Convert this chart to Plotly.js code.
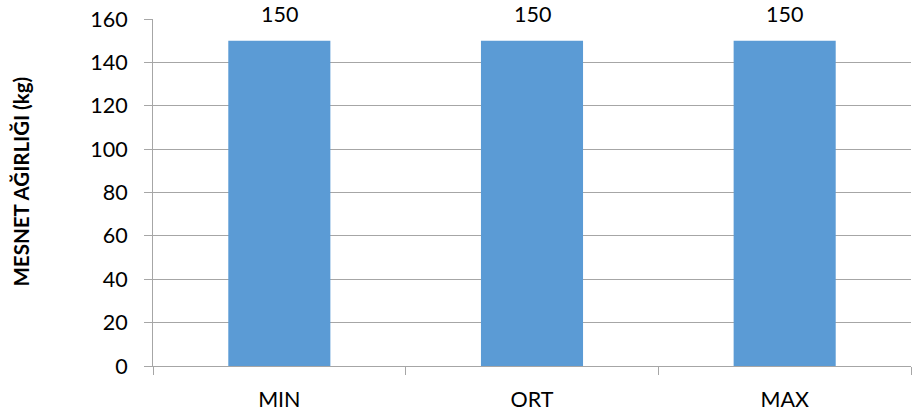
<!DOCTYPE html>
<html><head><meta charset="utf-8">
<script src="https://cdn.plot.ly/plotly-3.0.1.min.js"></script>
<style>html,body{margin:0;padding:0;background:#fff}#c{width:917px;height:415px}</style>
</head><body><div id="c"></div>
<script>
const categories = ["MIN", "ORT", "MAX"];
const values = [150, 150, 150];
const yTickVals = [0, 20, 40, 60, 80, 100, 120, 140, 160];
const yTitle = "MESNET AĞIRLIĞI (kg)";

const font = "Lato, 'Open Sans', sans-serif";
const trace = {
  type: "bar", x: categories, y: values,
  marker: {color: "#5B9BD5"},
  hoverinfo: "none"
};
const annotations = categories.map((c, i) => ({
  x: c, y: values[i], text: String(values[i]),
  showarrow: false, yanchor: "bottom", yshift: 12,
  font: {family: font, size: 21.5, color: "#000"}
}));
annotations.push({
  xref: "paper", yref: "paper", x: 0, y: 0.5, xanchor: "center", yanchor: "middle",
  xshift: -133, yshift: 11, textangle: -90, showarrow: false,
  text: "<b>" + yTitle + "</b>",
  font: {family: font, size: 20.5, color: "#000"}
});
const layout = {
  width: 917, height: 415,
  margin: {l: 153, r: 6, t: 19, b: 49},
  paper_bgcolor: "#fff", plot_bgcolor: "#fff",
  showlegend: false, bargap: 0.596,
  font: {family: font, size: 21.5, color: "#000"},
  xaxis: {
    type: "category", tickson: "boundaries", ticks: "outside", ticklen: 8,
    tickcolor: "#a6a6a6", showline: true, linecolor: "#a6a6a6", linewidth: 1,
    showgrid: false, ticklabelstandoff: 14,
    tickfont: {family: font, size: 21.5, color: "#000"}
  },
  yaxis: {
    range: [0, 160], tickvals: yTickVals, ticks: "outside", ticklen: 8,
    tickcolor: "#a6a6a6", showline: true, linecolor: "#a6a6a6",
    showgrid: true, gridcolor: "#a6a6a6", gridwidth: 1, zeroline: false,
    ticklabelstandoff: 12,
    tickfont: {family: font, size: 21.5, color: "#000"}
  },
  annotations: annotations
};
Plotly.newPlot("c", [trace], layout, {displayModeBar: false, staticPlot: true});
</script></body></html>
